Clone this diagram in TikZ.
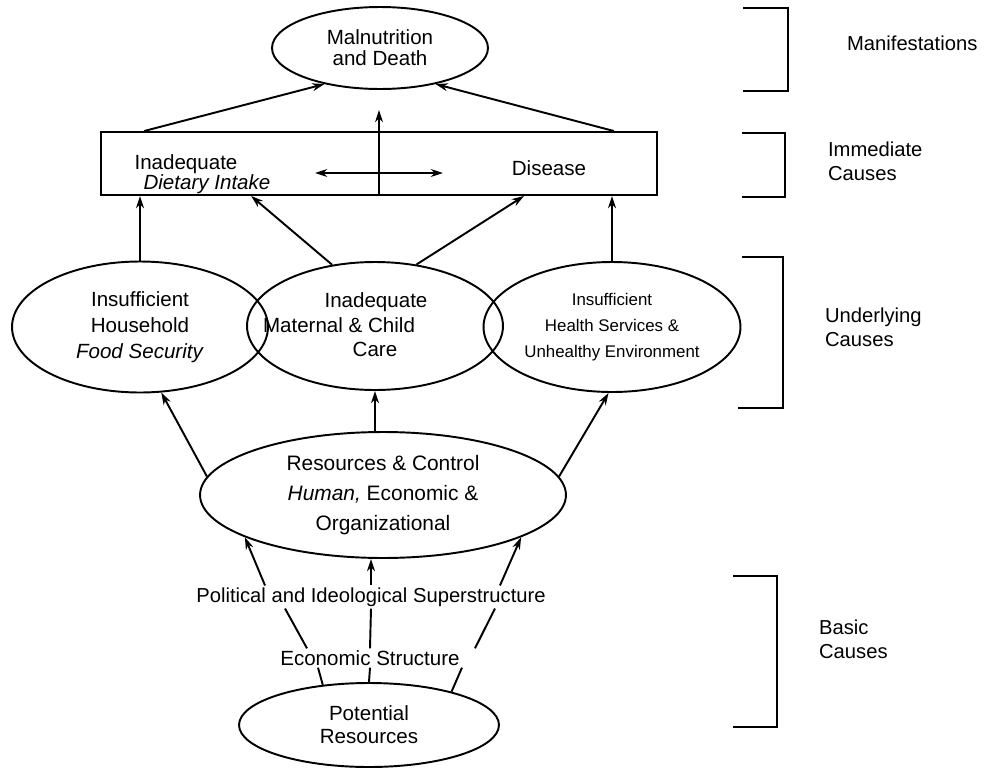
\documentclass[tikz,border=0pt]{standalone}
\usepackage{fontspec}
\setmainfont{Liberation Sans}
\usetikzlibrary{shapes.geometric, arrows.meta}

\tikzset{
	ell/.style={ellipse, draw, line width=1.1pt, inner sep=0pt, align=center},
	txt/.style={inner sep=1pt, align=center, font=\fontsize{11.7}{14}\selectfont},
	lbl/.style={inner sep=1pt, align=left, anchor=west, font=\fontsize{11.5}{13.5}\selectfont},
	arr/.style={line width=1.1pt, -{Stealth[length=7pt, width=4.5pt]}},
	darr/.style={line width=1.1pt, {Stealth[length=7pt, width=4.5pt]}-{Stealth[length=7pt, width=4.5pt]}},
	link/.style={line width=1.1pt},
	brk/.style={line width=1.3pt},
}

\begin{document}
\begin{tikzpicture}[x=0.02cm, y=-0.02cm]
	\useasboundingbox (0,0) rectangle (988,768);
	% Shapes:
	\node[ell, minimum width=4.32cm, minimum height=1.64cm, font=\fontsize{11.7}{12}\selectfont] (death) at (380,48){Malnutrition\\and Death};
	\node[draw, line width=1.1pt, minimum width=11.12cm, minimum height=1.26cm] (imm) at (379,163.5){};
	\node[ell, minimum width=5.12cm, minimum height=2.62cm, font=\fontsize{11.7}{14.8}\selectfont] (food) at (140,327){Insufficient\\Household\\\textit{Food Security}};
	\node[ell, minimum width=5.12cm, minimum height=2.56cm] (care) at (375,326){};
	\node[ell, minimum width=5.14cm, minimum height=2.6cm, font=\fontsize{9.6}{14.8}\selectfont] (health) at (612,327){Insufficient\\Health Services \&\\Unhealthy Environment};
	\node[ell, minimum width=7.32cm, minimum height=2.52cm, font=\fontsize{11.9}{17}\selectfont] (res) at (383,495){Resources \& Control\\\textit{Human,} Economic \&\\Organizational};
	\node[ell, minimum width=5.2cm, minimum height=1.68cm, font=\fontsize{11.7}{13}\selectfont] (pot) at (369,725){Potential\\Resources};
	% Texts:
	\node[txt, anchor=base] (diet1) at (186,169){Inadequate};
	\node[txt, anchor=base] (diet2) at (207,189){\textit{Dietary Intake}};
	\node[txt, anchor=base] (dis) at (549,175){Disease};
	\node[txt, anchor=base] (care1) at (376,307){Inadequate};
	\node[txt, anchor=base] (care2) at (339,332){Maternal \& Child};
	\node[txt, anchor=base] (care3) at (375,356){Care};
	\node[txt, font=\fontsize{11.5}{14}\selectfont] (pol) at (371,597){Political and Ideological Superstructure};
	\node[txt] (econ) at (370,658){Economic Structure};
	% Arrows:
	\coordinate (peak) at (378,110);
	\coordinate (dl) at (315,173);
	\coordinate (dr) at (443,173);
	\draw[arr] ([xshift=0.88cm]imm.north west) -- (death.213);
	\draw[arr] ([xshift=-0.88cm]imm.north east) -- (death.327);
	\draw[arr] (imm.south) -- (imm.south |- peak);
	\draw[darr] (dl) -- (dr);
	\draw[arr] (food.north) -- (food.north |- imm.south);
	\draw[arr] (care.125) -- ([xshift=3.02cm]imm.south west);
	\draw[arr] (care.56) -- ([xshift=8.48cm]imm.south west);
	\draw[arr] (health.north) -- (health.north |- imm.south);
	\draw[arr] (res.174) -- (food.288);
	\draw[arr] (care.south |- res.north) -- (care.south);
	\draw[arr] (res.6) -- (health.267);
	\draw[arr] ([xshift=-2.12cm]pol.north) -- (res.197);
	\draw[arr] (pol.north) -- (pol.north |- res.south);
	\draw[arr] ([xshift=2.58cm]pol.north) -- (res.343);
	\draw[link] ([xshift=-1.26cm]econ.north) -- ([xshift=-1.72cm]pol.south);
	\draw[link] (econ.north) -- (pol.south);
	\draw[link] ([xshift=2.1cm]econ.north) -- ([xshift=2.48cm]pol.south);
	\draw[link] (pot.139) -- ([xshift=-1.04cm]econ.south);
	\draw[link] (pot.north) -- (econ.south);
	\draw[link] (pot.22) -- ([xshift=1.84cm]econ.south);
	% Brackets and levels:
	\draw[brk] (743,8) -| (788,91) -- (743,91);
	\draw[brk] (742,133) -| (785,197) -- (742,197);
	\draw[brk] (742,257) -| (783,408) -- (738,408);
	\draw[brk] (733,576) -| (777,727) -- (733,727);
	\node[lbl] (manif) at (845,43){Manifestations};
	\node[lbl] (immlbl) at (826,161.5){Immediate\\Causes};
	\node[lbl] (undlbl) at (823,327.5){Underlying\\Causes};
	\node[lbl] (baslbl) at (817,639){Basic\\Causes};
\end{tikzpicture}
\end{document}
